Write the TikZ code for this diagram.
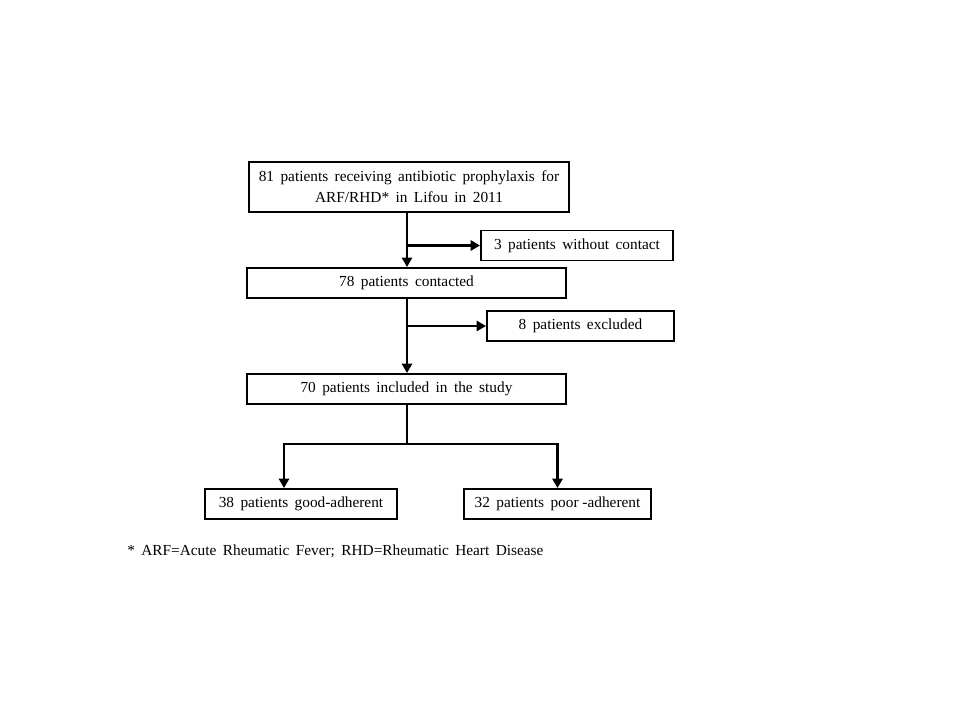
\documentclass[tikz,border=0pt]{standalone}
\usepackage{fontspec}
\setmainfont{Liberation Serif}
\usetikzlibrary{arrows.meta,positioning,calc}
\newcommand{\fcfont}{\fontsize{11.5}{15.5}\selectfont\spaceskip=0.42em\relax}
\tikzset{
  fcbox/.style={
    rectangle, draw=black, line width=1.4pt, fill=white,
    minimum height=30*0.75pt, align=center, font=\fcfont, inner sep=2pt
  },
  fctop/.style={fcbox, line width=1.9pt, minimum height=50*0.75pt},
  fcarrow/.style={-{Triangle[length=7pt,width=7.5pt]}, line width=2pt, draw=black},
  fcline/.style={line width=2pt, draw=black},
  fcnote/.style={font=\fcfont, anchor=west, inner sep=0pt},
}
\begin{document}
\begin{tikzpicture}[x=0.75pt, y=-0.75pt]
  \useasboundingbox (0,0) rectangle (960,720);
  \node (n81) [fctop, minimum width=320*0.75pt] at (409,187) {81 patients receiving antibiotic prophylaxis for\\ARF/RHD* in Lifou in 2011};
  \node (n3) [fcbox, minimum width=192*0.75pt] at (577,245.5) {3 patients without contact};
  \node (n78) [fcbox, minimum width=319*0.75pt] at (406.5,283) {78 patients contacted};
  \node (n8) [fcbox, minimum width=187*0.75pt] at (580.5,326) {8 patients excluded};
  \node (n70) [fcbox, minimum width=319*0.75pt] at (406.5,389) {70 patients included in the study};
  \node (ngood) [fcbox, minimum width=192*0.75pt] at (301,504) {38 patients good-adherent};
  \node (npoor) [fcbox, minimum width=187*0.75pt] at (557.5,504) {32 patients {\spaceskip=0pt poor -adherent}};
  \node (note) [fcnote] at (127,551) {* ARF=Acute Rheumatic Fever; RHD=Rheumatic Heart Disease};
  % main flow
  \coordinate (s81) at ($(n81.south)+(-2,0)$);
  \draw[fcarrow] (s81) -- (s81 |- n78.north);
  \draw[fcarrow] (s81 |- n3.west) -- (n3.west);
  \coordinate (s78) at ($(n78.south)+(0.5,0)$);
  \draw[fcarrow] (s78) -- (s78 |- n70.north);
  \draw[fcarrow] (s78 |- n8.west) -- (n8.west);
  % split
  \coordinate (split) at (407,444);
  \coordinate (goodtop) at (284,444);
  \draw[fcline] ($(n70.south)+(0.5,0)$) -- (split);
  \draw[fcarrow] (split) -- (goodtop) -- (goodtop |- ngood.north);
  \draw[fcarrow] (split) -- (npoor.north |- split) -- (npoor.north);
\end{tikzpicture}
\end{document}
